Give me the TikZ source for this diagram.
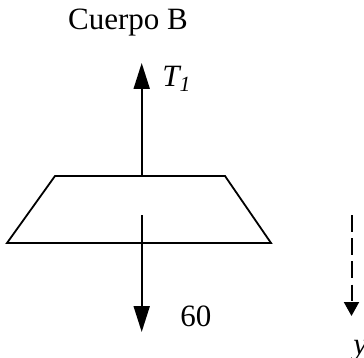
\documentclass[tikz,border=0pt]{standalone}
\usepackage{fontspec}
\setmainfont{Liberation Serif}
\usetikzlibrary{arrows.meta}
\tikzset{
  force/.style={-{Triangle[length=13pt, width=8pt]}, line width=1pt},
  axis/.style={-{Triangle[length=7pt, width=7.5pt]}, line width=1pt, dash pattern=on 8.3pt off 3.3pt},
  body/.style={line width=0.9pt, line join=miter},
  lbl/.style={inner sep=0pt, font=\fontsize{15.5}{18}\selectfont},
}

\begin{document}
\begin{tikzpicture}[x=0.5pt, y=-0.5pt]
  \useasboundingbox (0,0) rectangle (364,358);
  \node[lbl, anchor=base] (title) at (128,30) {Cuerpo B};
  % body B
  \coordinate (bl) at (7,243);
  \coordinate (tl) at (55,176);
  \coordinate (tr) at (225,176);
  \coordinate (br) at (271,243);
  \draw[body] (bl) -- (tl) -- (tr) -- (br) -- cycle;
  % forces
  \coordinate (ttail) at (141.7,176);
  \coordinate (ttip) at (141.7,63);
  \coordinate (wtail) at (141.7,215);
  \coordinate (wtip) at (141.7,332);
  \draw[force] (ttail) -- (ttip);
  \draw[force] (wtail) -- (wtip);
  \node[lbl, anchor=base west] (tlabel) at (162,87) {\textit{T\textsubscript{1}}};
  \node[lbl, anchor=base west] (wlabel) at (180,326) {60};
  % axis
  \coordinate (ytail) at (351.5,215);
  \coordinate (ytip) at (351.5,316);
  \draw[axis] (ytail) -- (ytip);
  \node[lbl, anchor=base west] (ylabel) at (353,354) {\textit{y}};
\end{tikzpicture}
\end{document}
